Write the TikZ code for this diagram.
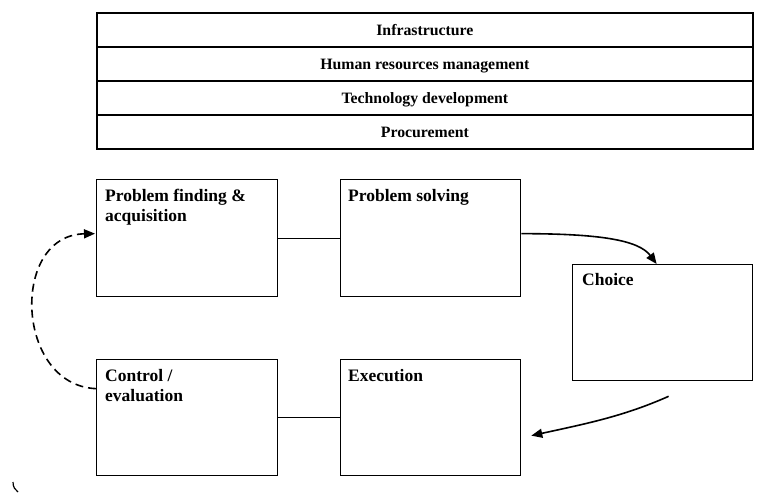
\documentclass[tikz,border=0pt]{standalone}
\usepackage{fontspec}
\setmainfont{Liberation Serif}
\usetikzlibrary{arrows.meta}

\tikzset{
  tablerow/.style={draw, line width=1.8pt, anchor=north west, inner sep=0pt,
    minimum width=656pt, minimum height=34pt, text height=11pt, text depth=0pt,
    font=\fontsize{15.8}{18}\selectfont\bfseries},
  stagebox/.style={draw, line width=1.3pt, anchor=north west, inner sep=0pt,
    minimum width=181pt, minimum height=117pt},
  stagetext/.style={anchor=north west, inner sep=0pt, align=left,
    font=\fontsize{17.5}{20}\selectfont\bfseries},
  link/.style={line width=1.3pt},
  flow/.style={line width=1.6pt, -{Triangle[length=11pt,width=9pt]}},
  feedback/.style={line width=1.6pt, dash pattern=on 8pt off 5pt,
    -{Triangle[length=11pt,width=9pt]}}
}

\begin{document}
\begin{tikzpicture}[x=1pt, y=-1pt]
  \useasboundingbox (0,0) rectangle (764,493);

  % support activities
  \node[tablerow] (infra) at (96,12)  {Infrastructure};
  \node[tablerow] (hrm)   at (96,46)  {Human resources management};
  \node[tablerow] (tech)  at (96,80)  {Technology development};
  \node[tablerow] (proc)  at (96,114) {Procurement};

  % stages of the cycle
  \node[stagebox] (pf) at (96,179)  {};
  \node[stagebox, minimum width=180pt] (ps) at (340,179) {};
  \node[stagebox, minimum width=180pt, minimum height=116pt] (ch) at (572,264) {};
  \node[stagebox, minimum height=116pt] (ce) at (96,359)  {};
  \node[stagebox, minimum width=180pt, minimum height=116pt] (ex) at (340,359) {};

  \node[stagetext] (pft) at ([xshift=9pt,yshift=-8pt]pf.north west) {\strut Problem finding \&\\acquisition};
  \node[stagetext] (pst) at ([xshift=8pt,yshift=-8pt]ps.north west) {\strut Problem solving};
  \node[stagetext] (cht) at ([xshift=10pt,yshift=-7pt]ch.north west) {\strut Choice};
  \node[stagetext] (cet) at ([xshift=9pt,yshift=-8pt]ce.north west) {\strut Control /\\evaluation};
  \node[stagetext] (ext) at ([xshift=8pt,yshift=-8pt]ex.north west) {\strut Execution};

  % plain links
  \draw[link] (pf) -- (ps);
  \draw[link] (ce) -- (ex);

  % directed flow
  \draw[flow] ([yshift=4.5pt]ps.east) .. controls +(78,0) and +(-18,-24) .. ([xshift=-6pt]ch.north);
  \coordinate (chout) at ([xshift=6pt,yshift=-15pt]ch.south);
  \coordinate (exin)  at ([xshift=10pt,yshift=-18pt]ex.east);
  \draw[flow] (chout) .. controls +(-45,20) and +(55,-12) .. (exin);

  % feedback loop
  \draw[feedback] ([yshift=29pt]ce.west) .. controls (15,385) and (10,235) .. ([xshift=-1pt,yshift=4.5pt]pf.west);

  % small stray arc at the lower left corner
  \coordinate (arcA) at (13,482);
  \coordinate (arcB) at (18,492);
  \draw[line width=1.2pt] (arcA) .. controls (13,487) and (15,490) .. (arcB);
\end{tikzpicture}
\end{document}
